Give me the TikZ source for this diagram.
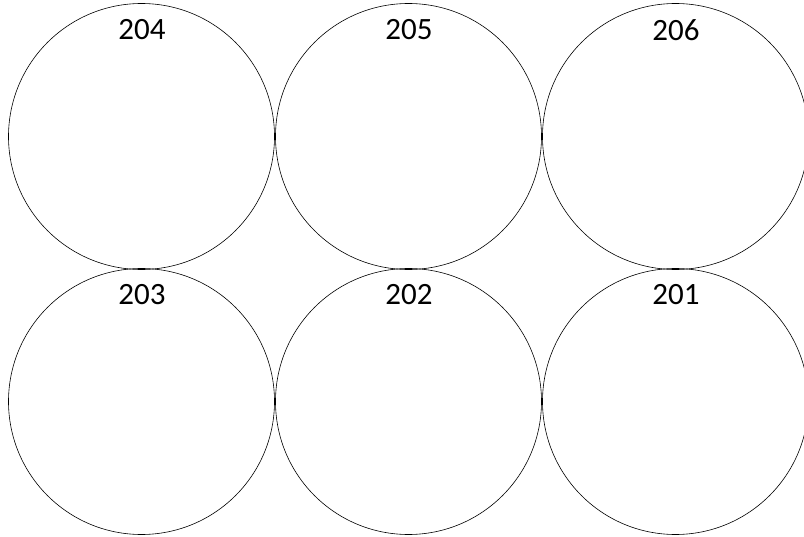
\documentclass[tikz,border=0pt]{standalone}
\usepackage{fontspec}
\setmainfont{Carlito}
\begin{document}
\begin{tikzpicture}[x=1pt,y=-1pt,
  disc/.style={draw=black,line width=0.6pt,circle,minimum size=266pt,inner sep=0pt},
  lbl/.style={font=\fontsize{31}{31}\selectfont,inner sep=0pt,anchor=center}]
\useasboundingbox (0,0) rectangle (804,537);
\clip (0,0) rectangle (804,537);
\node[disc] (c204) at (141.5,136.5) {};
\node[disc] (c205) at (408.5,136.5) {};
\node[disc] (c206) at (675.5,136.5) {};
\node[disc] (c203) at (141.5,401.5) {};
\node[disc] (c202) at (408.5,401.5) {};
\node[disc] (c201) at (675.5,401.5) {};
\node[lbl] (t204) at (142,30) {204};
\node[lbl] (t205) at (409,30) {205};
\node[lbl] (t206) at (676,30) {206};
\node[lbl] (t203) at (142,295) {203};
\node[lbl] (t202) at (409,295) {202};
\node[lbl] (t201) at (676,295) {201};
\end{tikzpicture}
\end{document}
